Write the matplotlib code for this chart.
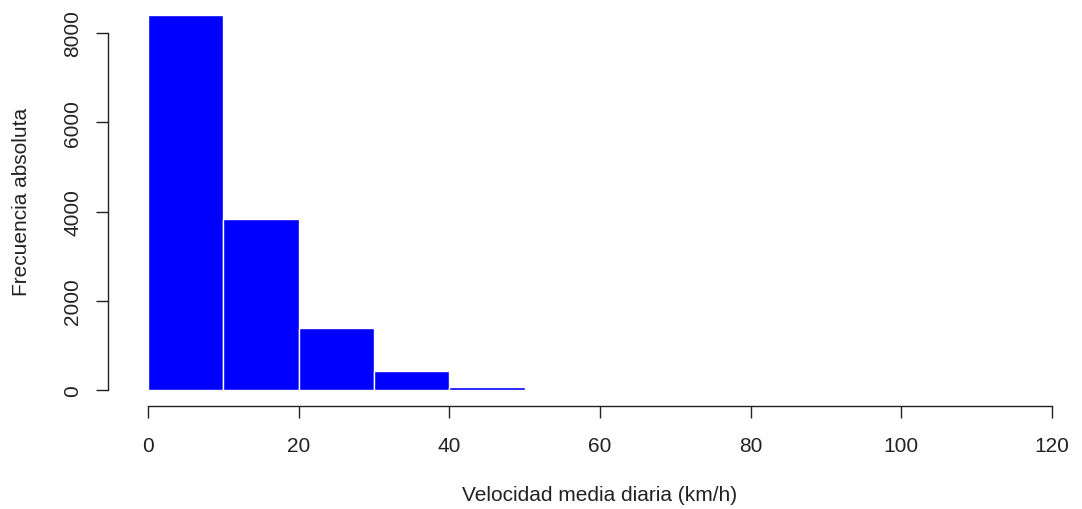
import numpy as np
import matplotlib.pyplot as plt

# histograma de velocidad media diaria (estilo R base)
bordes = np.arange(0, 130, 10)
frecuencias = [8400, 3830, 1390, 430, 70, 0, 0, 0, 0, 0, 0, 0]
ticks_x = [0, 20, 40, 60, 80, 100, 120]
ticks_y = [0, 2000, 4000, 6000, 8000]

plt.rcParams['font.family'] = ['Liberation Sans', 'DejaVu Sans']

W, H = 1082, 510
fig = plt.figure(figsize=(W / 100, H / 100), dpi=100)

# zona de dibujo en pixeles: x 108..1082, y 1..407
ax = fig.add_axes([108 / W, (H - 407) / H, (W - 108) / W, (407 - 1) / H])

escala_x = 904 / 120.0
ax.set_xlim((108 - 148) / escala_x, (W - 148) / escala_x)
escala_y = 357 / 8000.0
ax.set_ylim(-(407 - 391) / escala_y, (391 - 1) / escala_y)

ax.bar(bordes[:-1], frecuencias, width=10, align='edge',
       color='#0000ff', edgecolor='white', linewidth=1.0)

for s in ['top', 'right']:
    ax.spines[s].set_visible(False)
ax.spines['left'].set_bounds(0, 8000)
ax.spines['bottom'].set_bounds(0, 120)
for s in ['left', 'bottom']:
    ax.spines[s].set_linewidth(1.0)
    ax.spines[s].set_color('#222222')

ax.set_xticks(ticks_x)
ax.set_yticks(ticks_y)
ax.set_yticklabels([str(v) for v in ticks_y], rotation=90, va='center')
ax.tick_params(axis='x', direction='out', length=8.6, width=1.0,
               pad=13, labelsize=15, colors='#222222')
ax.tick_params(axis='y', direction='out', length=8.6, width=1.0,
               pad=10, labelsize=15, colors='#222222')

fig.text(600 / W, 1 - 496 / H, 'Velocidad media diaria (km/h)',
         ha='center', va='center', fontsize=15, color='#222222')
fig.text(22 / W, 1 - 202 / H, 'Frecuencia absoluta', rotation=90,
         ha='center', va='center', fontsize=15, color='#222222')

fig.savefig('out.png', dpi=100)
